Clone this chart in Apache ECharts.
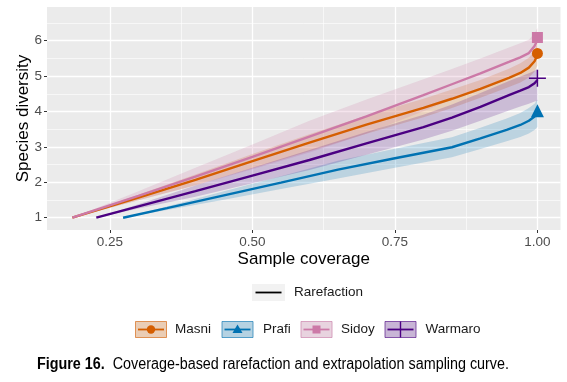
<!DOCTYPE html>
<html><head><meta charset="utf-8">
<script src="https://cdn.jsdelivr.net/npm/echarts@6/dist/echarts.min.js"></script>
<style>html,body{margin:0;padding:0;background:#fff}#c{width:567px;height:382px}</style>
</head><body><div id="c"></div>
<script>
// ---------------- data ----------------
const seriesNames = ['Masni', 'Prafi', 'Sidoy', 'Warmaro'];

const masniX  = [0.184, 0.30, 0.40, 0.50, 0.60, 0.70, 0.80, 0.85, 0.90, 0.95, 0.97, 0.985, 0.995, 1.00];
const masniY  = [1.00, 1.57, 2.07, 2.60, 3.12, 3.63, 4.10, 4.36, 4.64, 4.95, 5.09, 5.24, 5.42, 5.60];
const masniLo = [1.00, 1.49, 1.92, 2.40, 2.88, 3.37, 3.84, 4.10, 4.39, 4.69, 4.82, 4.96, 5.13, 5.30];
const masniHi = [1.00, 1.65, 2.22, 2.80, 3.36, 3.89, 4.36, 4.62, 4.89, 5.21, 5.36, 5.52, 5.71, 5.94];

const prafiX  = [0.273, 0.35, 0.45, 0.55, 0.65, 0.75, 0.85, 0.90, 0.946, 0.97, 0.985, 0.995, 1.00];
const prafiY  = [1.00, 1.27, 1.63, 1.99, 2.36, 2.68, 2.99, 3.24, 3.48, 3.62, 3.74, 3.86, 3.96];
const prafiLo = [1.00, 1.22, 1.51, 1.81, 2.11, 2.41, 2.71, 2.94, 3.16, 3.28, 3.38, 3.48, 3.56];
const prafiHi = [1.00, 1.32, 1.75, 2.17, 2.61, 2.95, 3.27, 3.54, 3.80, 3.96, 4.10, 4.22, 4.34];

const sidoyX  = [0.184, 0.30, 0.40, 0.50, 0.60, 0.70, 0.80, 0.85, 0.90, 0.95, 0.97, 0.985, 0.995, 1.00];
const sidoyY  = [1.00, 1.62, 2.16, 2.72, 3.29, 3.86, 4.46, 4.77, 5.08, 5.40, 5.53, 5.65, 5.85, 6.02];
const sidoyLo = [1.00, 1.49, 1.91, 2.37, 2.84, 3.38, 4.01, 4.34, 4.66, 4.99, 5.13, 5.27, 5.49, 5.72];
const sidoyHi = [1.00, 1.75, 2.41, 3.07, 3.74, 4.34, 4.91, 5.20, 5.50, 5.81, 5.93, 6.03, 6.21, 6.36];

const warmaroX  = [0.226, 0.30, 0.40, 0.50, 0.60, 0.70, 0.80, 0.85, 0.90, 0.95, 0.97, 0.985, 0.995, 1.00];
const warmaroY  = [1.00, 1.32, 1.75, 2.19, 2.63, 3.10, 3.56, 3.83, 4.13, 4.46, 4.59, 4.69, 4.80, 4.89];
const warmaroLo = [1.00, 1.26, 1.59, 1.97, 2.35, 2.78, 3.21, 3.46, 3.74, 4.03, 4.14, 4.22, 4.28, 4.30];
const warmaroHi = [1.00, 1.38, 1.91, 2.41, 2.91, 3.42, 3.91, 4.20, 4.52, 4.86, 4.99, 5.08, 5.15, 5.20];

// observed (reference sample) points
const observedX = [1.00, 1.00, 1.00, 1.00];
const observedY = [5.64, 4.02, 6.09, 4.94];

const xMajorTicks = [0.25, 0.50, 0.75, 1.00];
const xMinorTicks = [0.375, 0.625, 0.875];
const yMajorTicks = [1, 2, 3, 4, 5, 6];
const yMinorTicks = [1.5, 2.5, 3.5, 4.5, 5.5, 6.5];

const captionBold = 'Figure 16.';
const captionText = 'Coverage-based rarefaction and extrapolation sampling curve.';

// ---------------- styles ----------------
const colors = { Masni: '#D55E00', Prafi: '#0072B2', Sidoy: '#CC79A7', Warmaro: '#4B0082' };
const FONT = '"Liberation Sans", Arial, sans-serif';
const crossPath = 'path://M0,7.3H16V8.7H0Z M7.3,0H8.7V16H7.3Z';
const symbols = { Masni: 'circle', Prafi: 'triangle', Sidoy: 'rect', Warmaro: crossPath };
const symbolSizes = { Masni: 11, Prafi: 13, Sidoy: 11, Warmaro: 17 };

function rgba(hex, a) {
  const n = parseInt(hex.slice(1), 16);
  return 'rgba(' + (n >> 16 & 255) + ',' + (n >> 8 & 255) + ',' + (n & 255) + ',' + a + ')';
}

const curves = {
  Masni: [masniX, masniY, masniLo, masniHi],
  Prafi: [prafiX, prafiY, prafiLo, prafiHi],
  Sidoy: [sidoyX, sidoyY, sidoyLo, sidoyHi],
  Warmaro: [warmaroX, warmaroY, warmaroLo, warmaroHi]
};

function bandSeries(name) {
  const [xs, , lo, hi] = curves[name];
  return {
    type: 'custom', name: name + ' CI', silent: true, z: 2, clip: true,
    coordinateSystem: 'cartesian2d',
    encode: { x: 0, y: [1, 2] },
    data: xs.map((x, i) => [x, lo[i], hi[i]]),
    renderItem: function (params, api) {
      if (params.dataIndex !== 0) return null;
      const pts = [];
      for (let i = 0; i < xs.length; i++) pts.push(api.coord([xs[i], hi[i]]));
      for (let i = xs.length - 1; i >= 0; i--) pts.push(api.coord([xs[i], lo[i]]));
      return { type: 'polygon', shape: { points: pts }, style: { fill: rgba(colors[name], 0.2), stroke: null } };
    }
  };
}

function lineSeries(name) {
  const [xs, ys] = curves[name];
  return {
    type: 'line', name: name, z: 3, symbol: 'none', silent: true,
    data: xs.map((x, i) => [x, ys[i]]),
    lineStyle: { color: colors[name], width: 2.4 },
    itemStyle: { color: colors[name] }
  };
}

function pointSeries(name, idx) {
  return {
    type: 'scatter', name: name + ' observed', z: 4, silent: true,
    symbol: symbols[name], symbolSize: symbolSizes[name],
    data: [[observedX[idx], observedY[idx]]],
    itemStyle: { color: colors[name], opacity: 1 }
  };
}

const series = [];
seriesNames.forEach(n => series.push(bandSeries(n)));
seriesNames.forEach(n => series.push(lineSeries(n)));
seriesNames.forEach((n, i) => series.push(pointSeries(n, i)));

// ---------------- legend (drawn as graphics, ggplot style) ----------------
const legendLayout = { boxX: [135, 221.5, 300.5, 384.5], textX: [175, 263, 341, 425.5], y: 321, w: 32, h: 17 };
const graphics = [];
graphics.push({ type: 'rect', shape: { x: 252, y: 284, width: 33, height: 17 }, style: { fill: '#F2F2F2' }, silent: true });
graphics.push({ type: 'line', shape: { x1: 255.5, y1: 292.5, x2: 281.5, y2: 292.5 }, style: { stroke: '#000', lineWidth: 1.8 }, silent: true });
graphics.push({ type: 'text', x: 294, y: 292.5, style: { text: 'Rarefaction', font: '13.5px ' + FONT, fill: '#1A1A1A', verticalAlign: 'middle' }, silent: true });

seriesNames.forEach((n, i) => {
  const bx = legendLayout.boxX[i], by = legendLayout.y, w = legendLayout.w, h = legendLayout.h;
  const c = colors[n], cx = bx + w / 2, cy = by + h / 2;
  graphics.push({ type: 'rect', shape: { x: bx, y: by, width: w, height: h }, style: { fill: '#F2F2F2' }, silent: true });
  graphics.push({ type: 'rect', shape: { x: bx + 0.5, y: by + 0.5, width: w - 1, height: h - 1 }, style: { fill: rgba(c, 0.25), stroke: rgba(c, 0.6), lineWidth: 1 }, silent: true });
  graphics.push({ type: 'line', shape: { x1: bx + 3, y1: cy, x2: bx + w - 3, y2: cy }, style: { stroke: c, lineWidth: 1.8 }, silent: true });
  if (n === 'Masni') {
    graphics.push({ type: 'circle', shape: { cx: cx, cy: cy, r: 4.2 }, style: { fill: c }, silent: true });
  } else if (n === 'Prafi') {
    graphics.push({ type: 'polygon', shape: { points: [[cx, cy - 5], [cx + 5, cy + 3.5], [cx - 5, cy + 3.5]] }, style: { fill: c }, silent: true });
  } else if (n === 'Sidoy') {
    graphics.push({ type: 'rect', shape: { x: cx - 4, y: cy - 4, width: 8, height: 8 }, style: { fill: c }, silent: true });
  } else {
    graphics.push({ type: 'line', shape: { x1: cx, y1: by + 0.5, x2: cx, y2: by + h - 0.5 }, style: { stroke: c, lineWidth: 1.4 }, silent: true });
  }
  graphics.push({ type: 'text', x: legendLayout.textX[i], y: cy, style: { text: n, font: '13.5px ' + FONT, fill: '#1A1A1A', verticalAlign: 'middle' }, silent: true });
});

// caption: condensed look via horizontal scaling to the reference width
const CAP_FONT = '"Liberation Sans", Arial, sans-serif';
const capCtx = document.createElement('canvas').getContext('2d');
capCtx.font = 'bold 16px ' + CAP_FONT;
const wBold = capCtx.measureText(captionBold + '  ').width;
capCtx.font = '16px ' + CAP_FONT;
const wRest = capCtx.measureText(captionText).width;
const capScale = 472 / (wBold + wRest);
graphics.push({
  type: 'text', x: 37, y: 365, scaleX: capScale, silent: true,
  style: {
    text: '{b|' + captionBold + '}  ' + captionText,
    font: '16px ' + CAP_FONT,
    fill: '#000', verticalAlign: 'middle',
    rich: { b: { fontWeight: 'bold', fontSize: 16, fontFamily: CAP_FONT } }
  }
});

// ---------------- chart ----------------
const chart = echarts.init(document.getElementById('c'), null, { renderer: 'canvas' });
const tickLabel = { color: '#4D4D4D', fontSize: 13.5, fontFamily: FONT };
chart.setOption({
  animation: false,
  backgroundColor: '#fff',
  grid: { left: 47, right: 6.5, top: 7, bottom: 152, show: true, backgroundColor: '#EBEBEB', borderWidth: 0, containLabel: false },
  xAxis: [{
    type: 'value', min: 0.1395, max: 1.0405, position: 'bottom',
    name: 'Sample coverage', nameLocation: 'middle', nameGap: 21, nameMoveOverlap: false,
    nameTextStyle: { color: '#000', fontSize: 17, fontFamily: FONT },
    axisLine: { show: false },
    axisTick: { show: true, length: 3, lineStyle: { color: '#333', width: 1 }, customValues: xMajorTicks },
    axisLabel: { ...tickLabel, margin: 5, customValues: xMajorTicks, formatter: v => v.toFixed(2) },
    splitLine: { show: true, lineStyle: { color: '#FFFFFF', width: 1.3 } }
  }, {
    type: 'value', min: 0.1395, max: 1.0405, position: 'top',
    axisLine: { show: false }, axisLabel: { show: false },
    axisTick: { show: false, customValues: xMinorTicks },
    splitLine: { show: true, lineStyle: { color: '#FFFFFF', width: 0.6 } }
  }],
  yAxis: [{
    type: 'value', min: 0.653, max: 6.952, position: 'left',
    name: 'Species diversity', nameLocation: 'middle', nameGap: 15.5, nameMoveOverlap: false,
    nameTextStyle: { color: '#000', fontSize: 17, fontFamily: FONT },
    axisLine: { show: false },
    axisTick: { show: true, length: 3, lineStyle: { color: '#333', width: 1 }, customValues: yMajorTicks },
    axisLabel: { ...tickLabel, margin: 5, customValues: yMajorTicks, formatter: v => String(v) },
    splitLine: { show: true, lineStyle: { color: '#FFFFFF', width: 1.3 } }
  }, {
    type: 'value', min: 0.653, max: 6.952, position: 'right',
    axisLine: { show: false }, axisLabel: { show: false },
    axisTick: { show: false, customValues: yMinorTicks },
    splitLine: { show: true, lineStyle: { color: '#FFFFFF', width: 0.6 } }
  }],
  series: series,
  graphic: graphics
});
</script></body></html>
